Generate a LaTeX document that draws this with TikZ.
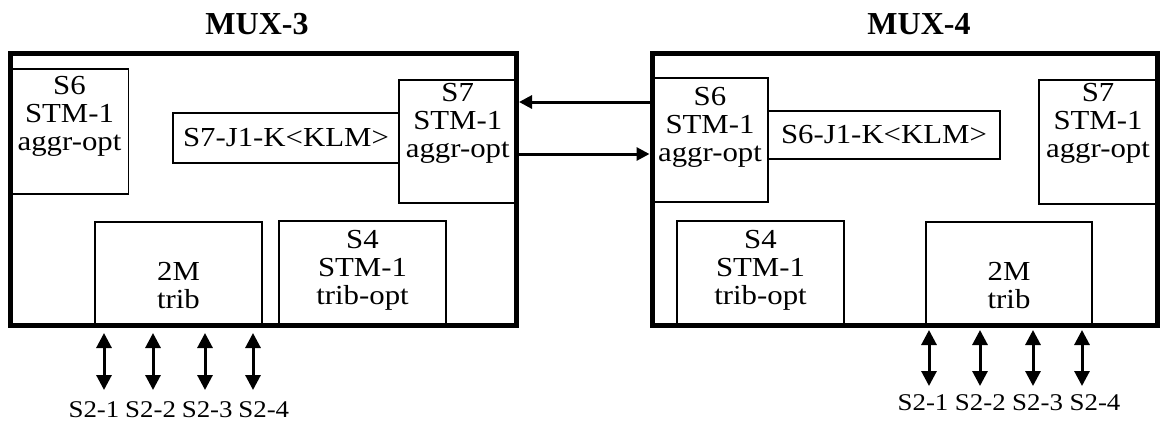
\documentclass[tikz,border=0pt]{standalone}
\usepackage{fontspec}
\setmainfont{Liberation Serif}
\newfontfamily\caixafont{Liberation Serif}[FakeStretch=1.12]
\usetikzlibrary{arrows.meta}

\tikzset{
  mux/.style={draw, line width=5pt, inner sep=0pt, anchor=north west},
  caixa/.style={draw, line width=1.5pt, inner sep=0pt, outer sep=0pt, anchor=north west,
    font={\caixafont\fontsize{27.5}{28}\selectfont}},
  texto/.style={font={\caixafont\fontsize{27.5}{28}\selectfont}, align=center, inner sep=0pt, anchor=north},
  titulo/.style={font={\fontsize{32}{34}\selectfont\bfseries}, inner sep=0pt},
  rotulo/.style={font={\caixafont\fontsize{24}{26}\selectfont}, inner sep=0pt, anchor=base},
  seta/.style={line width=3pt, -{Triangle[length=13pt,width=13pt]}},
  setadupla/.style={line width=3pt, {Triangle[length=15pt,width=15pt]}-{Triangle[length=15pt,width=15pt]}}
}

\begin{document}
\begin{tikzpicture}[x=1pt, y=-1pt] %cada unidade corresponde a um pixel da figura

\useasboundingbox (0,0) rectangle (1161,421);

%Os cartoes de cada multiplexador sao definidos pelo canto superior esquerdo (x,y), largura e altura
%---------------------------------------------------
% MUX-3
%---------------------------------------------------
\node[caixa, minimum width=118pt, minimum height=125pt] (s6a) at (10.5,69) {};
\node[texto] (t6a) at ([yshift=-7pt]s6a.north) {S6\\STM-1\\aggr-opt};

\node[caixa, minimum width=117.5pt, minimum height=123pt] (s7a) at (399,80) {};
\node[texto] (t7a) at ([yshift=-3pt]s7a.north) {S7\\STM-1\\aggr-opt};

\node[caixa, minimum width=226pt, minimum height=50pt] (j7a) at (173,113) {S7-J1-K<KLM>};

\node[caixa, minimum width=167pt, minimum height=103.5pt] (m2a) at (95,222) {};
\node[texto] (tm2a) at ([yshift=-40pt]m2a.north) {2M\\trib};

\node[caixa, minimum width=167pt, minimum height=104.5pt] (s4a) at (279,221) {};
\node[texto] (t4a) at ([yshift=-9pt]s4a.north) {S4\\STM-1\\trib-opt};

\node[mux, minimum width=506pt, minimum height=272pt] (mux3) at (8,51) {};
\node[titulo] (mux3t) at (257,24) {MUX-3};

%---------------------------------------------------
% MUX-4
%---------------------------------------------------
\node[caixa, minimum width=116pt, minimum height=124pt] (s6b) at (652,78) {};
\node[texto] (t6b) at ([yshift=-9pt]s6b.north) {S6\\STM-1\\aggr-opt};

\node[caixa, minimum width=232pt, minimum height=48pt] (j6b) at (768,111) {S6-J1-K<KLM>};

\node[caixa, minimum width=118pt, minimum height=124pt] (s7b) at (1039,80) {};
\node[texto] (t7b) at ([yshift=-3pt]s7b.north) {S7\\STM-1\\aggr-opt};

\node[caixa, minimum width=167pt, minimum height=104.5pt] (s4b) at (677,221) {};
\node[texto] (t4b) at ([yshift=-9pt]s4b.north) {S4\\STM-1\\trib-opt};

\node[caixa, minimum width=166pt, minimum height=103.5pt] (m2b) at (926,222) {};
\node[texto] (tm2b) at ([yshift=-40pt]m2b.north) {2M\\trib};

\node[mux, minimum width=505pt, minimum height=272pt] (mux4) at (649.5,51) {};
\node[titulo] (mux4t) at (919,24) {MUX-4};

%---------------------------------------------------
%Enlace optico entre os dois multiplexadores
%---------------------------------------------------
\draw[seta] (mux4.west |- 0,102) -- (mux3.east |- 0,102);
\draw[seta] (mux3.east |- 0,154) -- (mux4.west |- 0,154);

%---------------------------------------------------
%Tributarios de 2M (S2-1 a S2-4)
%---------------------------------------------------
\foreach \x [count=\i] in {104,153,205,253} {
  \coordinate (c3\i) at (\x,333);
  \coordinate (d3\i) at (\x,390);
  \draw[setadupla] (c3\i) -- (d3\i);
}
\foreach \x [count=\i] in {94,150.6,207.2,263.8}
  \node[rotulo] (l3\i) at (\x,417) {S2-\i};

\foreach \x [count=\i] in {929,980,1033,1082} {
  \coordinate (c4\i) at (\x,330);
  \coordinate (d4\i) at (\x,386);
  \draw[setadupla] (c4\i) -- (d4\i);
}
\foreach \x [count=\i] in {923,980.3,1037.6,1095}
  \node[rotulo] (l4\i) at (\x,410) {S2-\i};

\end{tikzpicture}
\end{document}
